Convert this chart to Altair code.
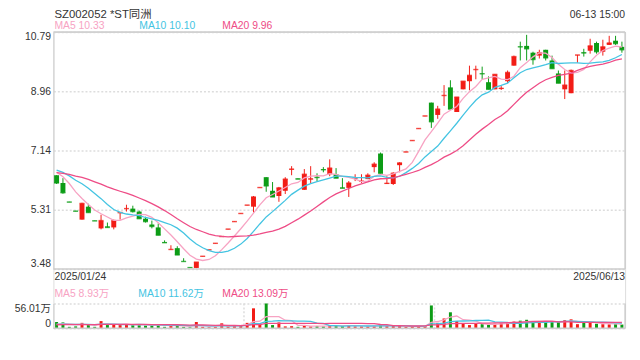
import altair as alt
import pandas as pd
import numpy as np

# ---------------- data ----------------
opens = [6.37, 6.13, 5.55, 5.27, 5.00, 5.40, 4.97, 4.73, 4.79, 4.76,
         5.20, 5.33, 5.34, 5.25, 5.03, 4.85, 4.76, 4.31, 4.07, 4.12,
         3.72, 3.53, 3.51, 3.86, 4.06, 4.26, 4.47, 4.70, 4.93, 5.18,
         5.44, 5.40, 5.98, 6.31, 5.89, 5.73, 5.89, 6.54, 6.27, 5.92,
         6.24, 6.32, 6.56, 6.40, 6.40, 5.99, 5.98, 6.27, 6.18, 6.25,
         6.62, 7.04, 6.10, 6.10, 6.68, 7.08, 7.43, 7.80, 8.19, 8.61,
         8.23, 8.82, 9.08, 8.32, 9.02, 9.27, 9.62, 9.51, 9.24, 9.02,
         9.03, 9.27, 9.75, 10.34, 10.36, 10.15, 10.06, 10.24, 9.91, 9.51,
         9.02, 8.90, 10.07, 10.16, 10.21, 10.45, 10.18, 10.39, 10.52, 10.33]
highs = [6.37, 6.28, 5.55, 5.27, 5.52, 5.49, 4.97, 5.15, 4.91, 5.00,
         5.22, 5.46, 5.43, 5.28, 5.09, 4.97, 4.88, 4.36, 4.21, 4.18,
         3.81, 3.53, 3.69, 3.87, 4.07, 4.27, 4.48, 4.71, 4.94, 5.19,
         5.45, 5.73, 5.99, 6.31, 6.16, 6.01, 6.31, 6.65, 6.27, 6.56,
         6.65, 6.43, 6.62, 6.86, 6.59, 6.28, 6.19, 6.40, 6.40, 6.43,
         6.77, 7.07, 6.34, 6.46, 6.77, 7.09, 7.44, 7.81, 8.20, 8.61,
         8.51, 9.15, 9.30, 8.78, 9.27, 9.75, 9.75, 9.72, 9.42, 9.48,
         9.12, 9.60, 10.06, 10.49, 10.70, 10.18, 10.24, 10.24, 10.06, 9.60,
         9.60, 9.63, 10.08, 10.27, 10.58, 10.49, 10.55, 10.67, 10.67, 10.49]
lows = [6.10, 5.80, 5.54, 5.26, 5.00, 5.22, 4.96, 4.70, 4.76, 4.70,
        5.00, 5.25, 5.22, 5.03, 4.91, 4.73, 4.52, 4.29, 4.07, 3.91,
        3.71, 3.52, 3.50, 3.86, 4.06, 4.26, 4.47, 4.70, 4.93, 5.18,
        5.44, 5.22, 5.98, 5.86, 5.70, 5.55, 5.79, 6.37, 6.25, 5.92,
        6.13, 6.19, 6.46, 6.34, 6.28, 5.97, 5.70, 6.19, 6.13, 6.25,
        6.46, 6.40, 6.10, 6.07, 6.46, 7.08, 7.43, 7.80, 8.19, 7.83,
        8.11, 8.51, 8.41, 8.32, 9.02, 8.99, 9.33, 9.33, 9.02, 9.02,
        9.00, 9.21, 9.75, 9.91, 9.91, 9.78, 9.97, 9.91, 9.66, 9.21,
        8.72, 8.90, 9.84, 10.03, 10.12, 10.12, 10.06, 10.39, 10.39, 10.15]
closes = [6.13, 5.83, 5.54, 5.26, 5.50, 5.22, 4.96, 4.97, 4.76, 4.97,
          5.22, 5.34, 5.25, 5.03, 4.94, 4.79, 4.52, 4.29, 4.08, 3.91,
          3.71, 3.52, 3.69, 3.87, 4.07, 4.27, 4.48, 4.71, 4.94, 5.19,
          5.45, 5.70, 5.99, 6.04, 5.70, 5.98, 6.25, 6.56, 6.25, 6.40,
          6.26, 6.30, 6.54, 6.59, 6.28, 5.97, 6.13, 6.28, 6.19, 6.37,
          6.71, 6.43, 6.12, 6.43, 6.75, 7.09, 7.44, 7.81, 8.20, 8.02,
          8.41, 8.83, 8.41, 8.78, 9.27, 9.45, 9.63, 9.50, 9.02, 9.48,
          9.05, 9.54, 10.03, 10.33, 10.27, 9.94, 10.15, 9.99, 9.66, 9.21,
          9.15, 9.60, 10.08, 10.14, 10.36, 10.18, 10.33, 10.45, 10.43, 10.24]
volumes = [14, 13, 3, 4, 12, 9, 3, 16, 7, 9,
           7, 8, 7, 8, 6, 6, 8, 3, 5, 7,
           3, 2, 14, 3, 2, 3, 11, 4, 5, 7,
           12, 45, 10, 56.01, 7, 13, 4, 4.5, 3, 6.7,
           4, 5, 4, 7, 5, 5, 7, 4, 4, 4,
           5, 8, 5, 6, 5, 3, 3, 4, 5, 51.5,
           12, 22, 36, 16, 10, 7, 10, 9, 8, 10,
           11, 13, 15, 17, 19, 15, 12, 14, 15, 14.6,
           18, 20, 9, 12, 12.55, 10, 9, 8.5, 9, 8.15]
# closes / volumes of the sessions before the first visible candle (MA warm-up)
warm_closes = [6.20, 6.25, 6.30, 6.35, 6.40, 6.45, 6.40, 6.42, 6.45, 6.48,
               6.55, 6.60, 6.62, 6.58, 6.60, 6.55, 6.58, 6.54, 6.53]
warm_volumes = [6, 7, 6, 8, 7, 6, 7, 8, 6, 7, 9, 8, 7, 8, 9, 8, 7, 9, 8]

price_ticks = [3.48, 5.31, 7.14, 8.96, 10.79]
vol_ticks = [0, 56.01]

title_text = "SZ002052 *ST同洲"
time_text = "06-13 15:00"
start_label = "2025/01/24"
end_label = "2025/06/13"
ma_price_labels = ["MA5 10.33", "MA10 10.10", "MA20 9.96"]
ma_vol_labels = ["MA5 8.93万", "MA10 11.62万", "MA20 13.09万"]

# ---------------- styling ----------------
RED, GREEN = "#f21c16", "#0c9c16"
MA_COLORS = ["#f7a3c3", "#44c4e2", "#ee4c86"]
FONT = "Liberation Sans, Arial, Noto Sans CJK SC"
TXT = "#333333"
GRID = "#dddddd"
BORDER = "#cccccc"

W = 579
MAIN_H = 240
VOL_TOP = 275
VOL_BOT = 300
H = VOL_BOT

k = len(warm_closes)
all_c = pd.Series(warm_closes + closes)
all_v = pd.Series(warm_volumes + volumes)
df = pd.DataFrame({
    "i": list(range(len(closes))),
    "open": opens, "high": highs, "low": lows, "close": closes, "vol": volumes,
})
for p in (5, 10, 20):
    df[f"ma{p}"] = all_c.rolling(p).mean().iloc[k:].values
    df[f"vma{p}"] = all_v.rolling(p).mean().iloc[k:].values
df["dir"] = np.where(df["close"] >= df["open"], "up", "down")

x_enc = alt.X("i:O", axis=None, scale=alt.Scale(paddingInner=0, paddingOuter=0))
color_enc = alt.Color("dir:N", scale=alt.Scale(domain=["up", "down"], range=[RED, GREEN]), legend=None)

price_scale = alt.Scale(domain=[price_ticks[0], price_ticks[-1]], range=[MAIN_H, 0], nice=False, zero=False)
price_axis = alt.Axis(values=price_ticks, format=".2f", orient="left", title=None,
                      grid=True, gridDash=[2, 2], gridColor=GRID, gridWidth=1.5,
                      domain=True, domainColor=BORDER, ticks=False,
                      labelFlush=True, labelPadding=3, labelFont=FONT, labelFontSize=10.5,
                      labelColor=TXT)
vol_scale = alt.Scale(domain=[vol_ticks[0], vol_ticks[-1]], range=[VOL_BOT, VOL_TOP], nice=False, zero=True)
vol_axis = alt.Axis(values=vol_ticks, orient="left", title=None,
                    labelExpr="datum.value == 0 ? '0' : format(datum.value, '.2f') + '万'",
                    grid=True, gridDash=[2, 2], gridColor=GRID, gridWidth=1.5,
                    domain=True, domainColor=BORDER, ticks=False,
                    labelFlush=True, labelPadding=3, labelFont=FONT, labelFontSize=10.5,
                    labelColor=TXT)

base = alt.Chart(df)
one = pd.DataFrame({"d": [0]})

# ---- price panel ----
wicks = base.mark_rule(strokeWidth=1).encode(
    x=x_enc, y=alt.Y("low:Q", scale=price_scale, axis=price_axis), y2="high:Q", color=color_enc)
bodies = base.mark_bar(width=5).encode(
    x=x_enc, y=alt.Y("open:Q", scale=price_scale, axis=price_axis), y2="close:Q", color=color_enc)
closes_tick = base.mark_tick(thickness=1.5, size=5).encode(
    x=x_enc, y=alt.Y("close:Q", scale=price_scale, axis=price_axis), color=color_enc)
ma_lines = [
    base.mark_line(strokeWidth=1.3, color=c).encode(
        x=x_enc, y=alt.Y(f"ma{p}:Q", scale=price_scale, axis=price_axis))
    for p, c in zip((5, 10, 20), MA_COLORS)
]
top_border = alt.Chart(one).mark_rule(color=BORDER, strokeWidth=1.5).encode(
    y=alt.Y(datum=price_ticks[-1], scale=price_scale, axis=price_axis))
bot_border = alt.Chart(one).mark_rule(color=BORDER, strokeWidth=1.5).encode(
    y=alt.Y(datum=price_ticks[0], scale=price_scale, axis=price_axis))
right_border = alt.Chart(one).mark_rule(color=BORDER, strokeWidth=1.5).encode(
    x=alt.value(W), y=alt.value(0), y2=alt.value(MAIN_H))

price_layer = alt.layer(wicks, bodies, closes_tick, *ma_lines, top_border, bot_border, right_border)

# ---- volume panel ----
vbars = base.mark_bar(width=3).encode(
    x=x_enc, y=alt.Y("vol:Q", scale=vol_scale, axis=vol_axis), color=color_enc)
vma_lines = [
    base.mark_line(strokeWidth=1.3, color=c).encode(
        x=x_enc, y=alt.Y(f"vma{p}:Q", scale=vol_scale, axis=vol_axis))
    for p, c in zip((5, 10, 20), MA_COLORS)
]
vgrid = [
    alt.Chart(one).mark_rule(color=GRID, strokeWidth=1.5, strokeDash=[2, 2]).encode(
        x=alt.value(W * f), y=alt.value(VOL_TOP), y2=alt.value(VOL_BOT))
    for f in (1 / 3, 2 / 3)
]
v_right = alt.Chart(one).mark_rule(color=BORDER, strokeWidth=1.5).encode(
    x=alt.value(W), y=alt.value(VOL_TOP), y2=alt.value(VOL_BOT))
v_bottom = alt.Chart(one).mark_rule(color=BORDER, strokeWidth=1.5).encode(
    y=alt.Y(datum=0, scale=vol_scale, axis=vol_axis))
vol_layer = alt.layer(*vgrid, vbars, *vma_lines, v_right, v_bottom)


def label(text, x, y, color=TXT, size=10.5, align="left"):
    return alt.Chart(pd.DataFrame({"t": [text]})).mark_text(
        align=align, baseline="middle", font=FONT, fontSize=size, color=color
    ).encode(text="t:N", x=alt.value(x), y=alt.value(y))


texts = [
    label(title_text, 1, -17, size=11.5),
    label(time_text, W, -17, align="right"),
    label(ma_price_labels[0], 1, -5.5, MA_COLORS[0]),
    label(ma_price_labels[1], 87, -5.5, MA_COLORS[1]),
    label(ma_price_labels[2], 171, -5.5, MA_COLORS[2]),
    label(start_label, 1, 248),
    label(end_label, W, 248, align="right"),
    label(ma_vol_labels[0], 1, 265, MA_COLORS[0]),
    label(ma_vol_labels[1], 86, 265, MA_COLORS[1]),
    label(ma_vol_labels[2], 171, 265, MA_COLORS[2]),
]

chart = alt.layer(price_layer, vol_layer, *texts).resolve_scale(y="independent").resolve_axis(
    y="independent"
).properties(
    width=W, height=H,
    autosize=alt.AutoSizeParams(type="none"),
    padding={"left": 46, "top": 22, "right": 7, "bottom": 30},
).configure_view(stroke=None).configure(background="white")

chart.save("out.html", embed_options={"renderer": "svg", "actions": False})
